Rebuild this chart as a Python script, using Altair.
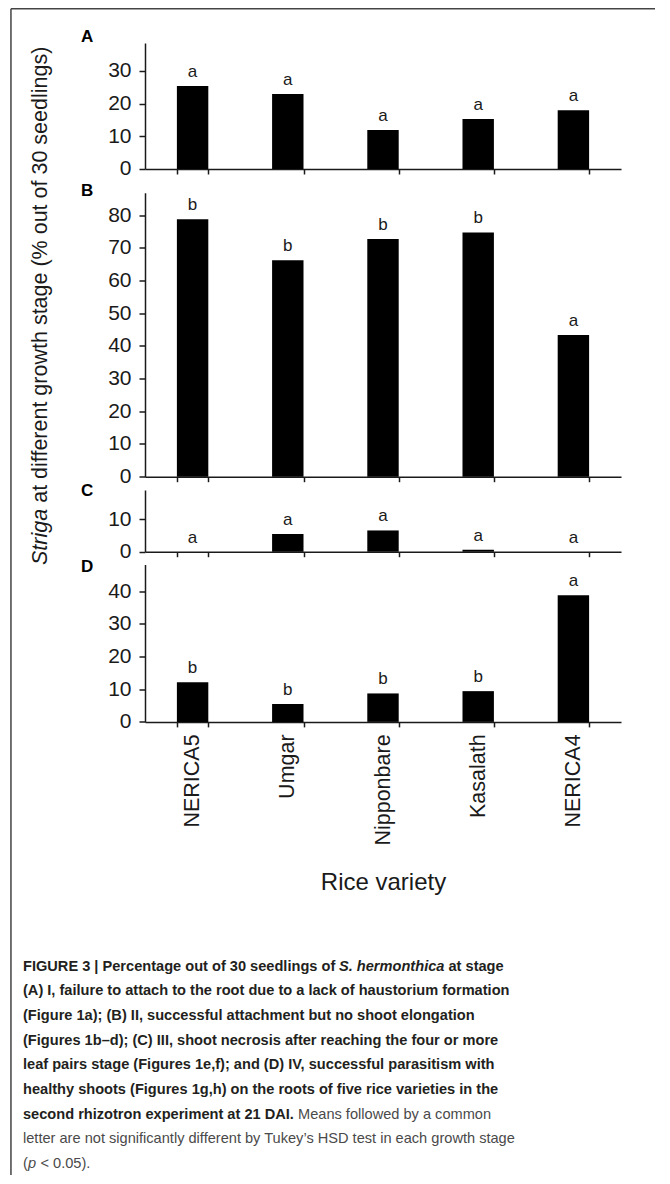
import altair as alt
import pandas as pd

# ---------------- data ----------------
varieties = ["NERICA5", "Umgar", "Nipponbare", "Kasalath", "NERICA4"]

stage_A = [25.4, 22.9, 11.9, 15.3, 18.0]
letters_A = ["a", "a", "a", "a", "a"]
ticks_A = [0, 10, 20, 30]

stage_B = [78.7, 66.2, 72.7, 74.7, 43.3]
letters_B = ["b", "b", "b", "b", "a"]
ticks_B = [0, 10, 20, 30, 40, 50, 60, 70, 80]

stage_C = [0.0, 5.4, 6.5, 0.6, 0.0]
letters_C = ["a", "a", "a", "a", "a"]
ticks_C = [0, 10]

stage_D = [12.1, 5.5, 8.7, 9.4, 38.7]
letters_D = ["b", "b", "b", "b", "a"]
ticks_D = [0, 10, 20, 30, 40]

panel_tags = ["A", "B", "C", "D"]

y_title_italic = "Striga"
y_title_rest = "at different growth stage (% out of 30 seedlings)"
x_title = "Rice variety"

caption_l1 = ["FIGURE 3 | Percentage out of 30 seedlings of", "S. hermonthica", "at stage"]
caption_bold = [
    "(A) I, failure to attach to the root due to a lack of haustorium formation",
    "(Figure 1a); (B) II, successful attachment but no shoot elongation",
    "(Figures 1b\u2013d); (C) III, shoot necrosis after reaching the four or more",
    "leaf pairs stage (Figures 1e,f); and (D) IV, successful parasitism with",
    "healthy shoots (Figures 1g,h) on the roots of five rice varieties in the",
]
caption_l7 = ["second rhizotron experiment at 21 DAI.", "Means followed by a common"]
caption_l8 = "letter are not significantly different by Tukey\u2019s HSD test in each growth stage"
caption_l9 = ["(", "p", "< 0.05)."]

# ---------------- styling ----------------
PX = 3.27          # pixels per percentage unit (same in all panels)
W = 476
FONT = "Liberation Sans"
CAP_FONT = "Liberation Sans"
CAP_SIZE = 14.6
INK = "#1a1a1a"
CAP_BOLD = "#231f20"
CAP_NORM = "#4a4a4a"

one = pd.DataFrame({"k": [0]})


def text_layer(txt, x, y, **kw):
    return alt.Chart(pd.DataFrame({"t": [txt]})).mark_text(**kw).encode(
        x=alt.value(x), y=alt.value(y), text="t:N")


def make_panel(values, letters, ticks, ymax, tag, tag_y, top_pad=0.0, last=False, extras=()):
    df = pd.DataFrame({"variety": varieties, "value": values, "letter": letters})
    H = ymax * PX + top_pad
    ax_kw = dict(labels=last, tickSize=5, tickBand="extent", labelAngle=270,
                 labelFontSize=21.5, labelPadding=7, labelFont=FONT)
    if last:
        ax_kw.update(title=x_title, titleFontSize=24, titleFont=FONT,
                     titleFontWeight="normal", titlePadding=25, titleColor=INK)
    else:
        ax_kw.update(title=None)
    x = alt.X("variety:N", sort=varieties,
              scale=alt.Scale(paddingInner=0.67, paddingOuter=0.335),
              axis=alt.Axis(**ax_kw))
    y = alt.Y("value:Q",
              scale=alt.Scale(domain=[0, ymax], range=[H, top_pad], nice=False),
              axis=alt.Axis(values=ticks, title=None, tickSize=6, labelFontSize=21,
                            labelPadding=8, labelFont=FONT))
    base = alt.Chart(df)
    bars = base.mark_bar(color="black").encode(x=x, y=y)
    lets = base.mark_text(baseline="bottom", dy=-5, fontSize=17, font=FONT,
                          color=INK).encode(x=x, y=y, text="letter:N")
    tagm = text_layer(tag, -64, tag_y, align="left", baseline="alphabetic",
                      fontSize=17, fontWeight="bold", font=FONT, color="black")
    return alt.layer(bars, lets, tagm, *extras).properties(width=W, height=H)


# frame lines (relative to panel A plot origin at page (145, 43))
frame_top = alt.Chart(one).mark_rule(color="#444", strokeWidth=1.5).encode(
    x=alt.value(-134.05), x2=alt.value(510), y=alt.value(-34.25))
frame_left = alt.Chart(one).mark_rule(color="#444", strokeWidth=1.5).encode(
    x=alt.value(-134.05), y=alt.value(-34.25), y2=alt.value(1175 - 43))

# y title (relative to panel B origin at page (145, 181.5))
yt_anchor = 383.5
ytitle1 = text_layer(y_title_italic, -104, yt_anchor, angle=270, align="left",
                     baseline="middle", fontSize=21.5, fontStyle="italic",
                     font=FONT, color=INK)
ytitle2 = text_layer(y_title_rest, -104, yt_anchor - 62.2, angle=270, align="left",
                     baseline="middle", fontSize=21.5, font=FONT, color=INK)

# caption (relative to panel D origin at page (145, 563.4))
OX, OY = 145, 563.4
LH = 24.7
B0 = 969.4


def cap(txt, px, line, weight="normal", style="normal", color=CAP_NORM):
    return text_layer(txt, px - OX, B0 + LH * line - OY, align="left",
                      baseline="alphabetic", fontSize=CAP_SIZE, font=CAP_FONT,
                      fontWeight=weight, fontStyle=style, color=color)


caps = [
    cap(caption_l1[0], 23, 0, "bold", color=CAP_BOLD),
    cap(caption_l1[1], 339, 0, "bold", "italic", CAP_BOLD),
    cap(caption_l1[2], 448.5, 0, "bold", color=CAP_BOLD),
]
for i, ln in enumerate(caption_bold):
    caps.append(cap(ln, 23, 1 + i, "bold", color=CAP_BOLD))
caps += [
    cap(caption_l7[0], 23, 6, "bold", color=CAP_BOLD),
    cap(caption_l7[1], 298, 6),
    cap(caption_l8, 23, 7),
    cap(caption_l9[0], 23, 8),
    cap(caption_l9[1], 28, 8, style="italic"),
    cap(caption_l9[2], 40.5, 8),
]

pA = make_panel(stage_A, letters_A, ticks_A, 38.53, panel_tags[0], -1,
                extras=(frame_top, frame_left))
pB = make_panel(stage_B, letters_B, ticks_B, 86.85, panel_tags[1], 14.5,
                top_pad=11.2, extras=(ytitle1, ytitle2))
pC = make_panel(stage_C, letters_C, ticks_C, 18.87, panel_tags[2], 5.8)
pD = make_panel(stage_D, letters_D, ticks_D, 48.13, panel_tags[3], 7.6,
                last=True, extras=tuple(caps))

chart = (
    alt.vconcat(pA, pB, pC, pD, spacing=12.5, bounds="flush")
    .properties(padding={"left": 2, "top": 0, "right": 0, "bottom": 0})
    .configure_view(stroke=None)
    .configure_axis(domainColor=INK, domainWidth=1.5, tickColor=INK, tickWidth=1.5,
                    labelColor=INK, grid=False)
)

chart.save("out.html", embed_options={"renderer": "svg", "actions": False})
